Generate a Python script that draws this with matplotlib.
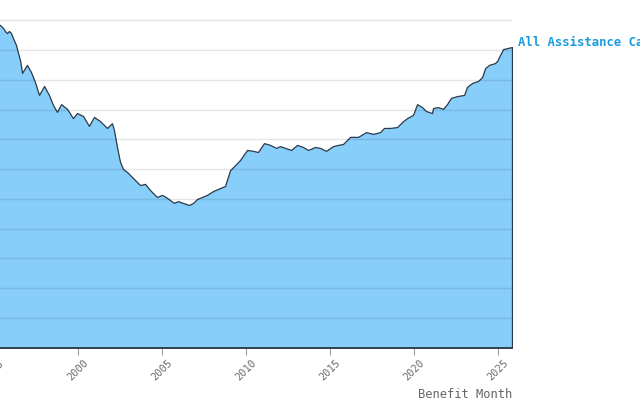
import matplotlib
matplotlib.use("Agg")
import matplotlib.pyplot as plt

# Data (arbitrary units: one gridline = 1 unit)
years = [1995.00, 1995.20, 1995.39, 1995.57, 1995.68, 1995.80, 1995.92, 1996.04, 1996.16, 1996.34,
         1996.46, 1996.58, 1996.70, 1996.99, 1997.23, 1997.47, 1997.71, 1998.01, 1998.30, 1998.54,
         1998.78, 1999.02, 1999.38, 1999.73, 1999.97, 2000.33, 2000.68, 2000.98, 2001.34, 2001.76,
         2002.05, 2002.17, 2002.35, 2002.53, 2002.71, 2002.95, 2003.30, 2003.72, 2004.02, 2004.32,
         2004.73, 2005.03, 2005.33, 2005.74, 2005.98, 2006.28, 2006.64, 2006.88, 2007.11, 2007.41,
         2007.71, 2008.07, 2008.36, 2008.78, 2009.08, 2009.38, 2009.67, 2010.09, 2010.45, 2010.74,
         2011.10, 2011.46, 2011.82, 2012.05, 2012.35, 2012.71, 2013.07, 2013.42, 2013.72, 2014.14,
         2014.43, 2014.79, 2015.21, 2015.51, 2015.80, 2016.22, 2016.70, 2017.17, 2017.59, 2018.01,
         2018.24, 2018.60, 2019.02, 2019.32, 2019.61, 2019.97, 2020.21, 2020.51, 2020.74, 2021.10,
         2021.16, 2021.46, 2021.76, 2021.99, 2022.23, 2022.59, 2023.01, 2023.18, 2023.48, 2023.84,
         2024.08, 2024.26, 2024.49, 2024.85, 2024.97, 2025.15, 2025.33, 2025.62, 2025.86]
cases = [10.90, 10.88, 10.84, 10.74, 10.64, 10.57, 10.64, 10.57, 10.40, 10.17,
         9.90, 9.66, 9.23, 9.50, 9.26, 8.92, 8.49, 8.79, 8.49, 8.15,
         7.92, 8.18, 8.02, 7.71, 7.88, 7.78, 7.45, 7.75, 7.61, 7.38,
         7.54, 7.31, 6.74, 6.24, 6.00, 5.90, 5.70, 5.46, 5.50, 5.29,
         5.06, 5.13, 5.03, 4.86, 4.92, 4.86, 4.79, 4.86, 4.99, 5.06,
         5.13, 5.26, 5.33, 5.43, 5.96, 6.13, 6.30, 6.64, 6.61, 6.57,
         6.87, 6.81, 6.71, 6.77, 6.71, 6.64, 6.81, 6.74, 6.64, 6.74,
         6.71, 6.61, 6.77, 6.81, 6.84, 7.08, 7.08, 7.24, 7.18, 7.24,
         7.38, 7.38, 7.41, 7.58, 7.71, 7.82, 8.18, 8.08, 7.95, 7.88,
         8.05, 8.08, 8.02, 8.18, 8.39, 8.45, 8.49, 8.76, 8.89, 8.96,
         9.09, 9.39, 9.50, 9.56, 9.63, 9.83, 10.03, 10.07, 10.10]
series_label = "All Assistance Cases"
x_label = "Benefit Month"
x_ticks = [1995, 2000, 2005, 2010, 2015, 2020, 2025]
y_grid = list(range(0, 12))

mono = "DejaVu Sans Mono"

fig = plt.figure(figsize=(6.4, 4.0), dpi=100)
ax = fig.add_axes([-6.5 / 640, 52.5 / 400, 518.5 / 640, 347.5 / 400])

ax.fill_between(years, cases, 0, facecolor="#87cefa", edgecolor="#2b3a4a",
                linewidth=0.9, zorder=1)

ax.set_xlim(years[0], years[-1])
ax.set_ylim(0, 347.5 / 29.75)

ax.set_yticks(y_grid)
ax.set_yticklabels([])
ax.tick_params(axis="y", length=0)
ax.grid(axis="y", color="#000000", alpha=0.10, linewidth=1.0, zorder=3)
ax.set_axisbelow(False)

ax.set_xticks(x_ticks)
ax.set_xticklabels([str(t) for t in x_ticks], rotation=45, ha="center",
                   fontsize=7.5, color="#6a6a6a", family=mono)
ax.tick_params(axis="x", length=5, color="#999999", width=0.8, pad=2)

for s in ("top", "right", "left"):
    ax.spines[s].set_visible(False)
ax.spines["bottom"].set_color("#2b3a4a")
ax.spines["bottom"].set_linewidth(1.2)
ax.spines["bottom"].set_zorder(4)

ax.set_xlabel(x_label, fontsize=8.7, color="#666666", family=mono,
              loc="right", va="center")
ax.xaxis.set_label_coords(1.0, -(395 - 347.5) / 347.5)

ax.annotate(series_label, xy=(years[-1], cases[-1]), xytext=(6, 5),
            textcoords="offset pixels", ha="left", va="center",
            fontsize=8.8, fontweight="bold", color="#1a9be0", family=mono,
            annotation_clip=False)

fig.savefig("out.png", dpi=100)
